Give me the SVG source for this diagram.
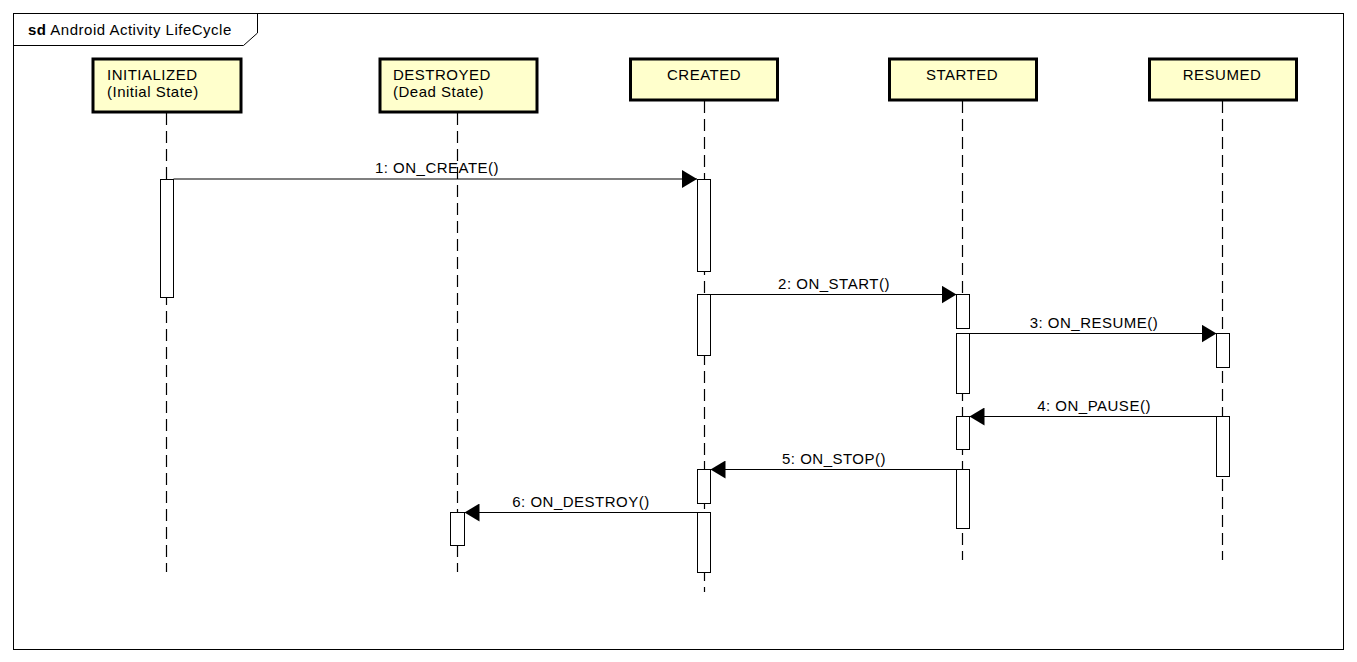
<svg xmlns="http://www.w3.org/2000/svg" width="1357" height="662" viewBox="0 0 1357 662">
<style>
text{font-family:"Liberation Sans",Arial,sans-serif;font-size:15px;letter-spacing:0.5px;fill:#000}
.box{fill:#FFFFCC;stroke:#000;stroke-width:3}
.life{stroke:#000;stroke-width:1.2;stroke-dasharray:12 6;fill:none}
.act{fill:#fff;stroke:#000;stroke-width:1}
.msg{stroke:#000;stroke-width:1.2;fill:none;marker-end:url(#ah)}
.lbl{text-anchor:middle}
</style>
<defs>
<marker id="ah" markerUnits="userSpaceOnUse" markerWidth="16" markerHeight="18" refX="15" refY="9" orient="auto">
<path d="M0,0 L15,9 L0,18 Z" fill="#000"/>
</marker>
</defs>
<rect width="1357" height="662" fill="#fff"/>
<g id="frame">
<rect x="13.5" y="13.5" width="1330" height="636" fill="none" stroke="#000" stroke-width="1"/>
<path d="M13.5,45.5 L243.5,45.5 L257.5,33 L257.5,13.5" fill="none" stroke="#000" stroke-width="1"/>
<text x="28" y="35"><tspan font-weight="bold">sd</tspan> Android  Activity LifeCycle</text>
</g>
<g id="initialized">
<rect class="box" x="93" y="59" width="148" height="53"/>
<text x="107" y="80">INITIALIZED</text>
<text x="107" y="97">(Initial State)</text>
<line class="life" x1="166.5" y1="113" x2="166.5" y2="572"/>
<rect class="act" x="160.5" y="179.5" width="13" height="118"/>
</g>
<g id="destroyed">
<rect class="box" x="380" y="59" width="157" height="53"/>
<text x="393" y="80">DESTROYED</text>
<text x="393" y="97">(Dead State)</text>
<line class="life" x1="457.5" y1="113" x2="457.5" y2="572"/>
<rect class="act" x="450.5" y="512.5" width="14" height="33"/>
</g>
<g id="created">
<rect class="box" x="630.5" y="59" width="147" height="41"/>
<text class="lbl" x="704" y="80">CREATED</text>
<line class="life" x1="704.5" y1="101" x2="704.5" y2="592"/>
<rect class="act" x="697.5" y="179.5" width="13" height="92"/>
<rect class="act" x="697.5" y="294.5" width="13" height="61"/>
<rect class="act" x="697.5" y="469.5" width="13" height="34"/>
<rect class="act" x="697.5" y="512.5" width="13" height="60"/>
</g>
<g id="started">
<rect class="box" x="889.5" y="59" width="147" height="41"/>
<text class="lbl" x="962" y="80">STARTED</text>
<line class="life" x1="962.5" y1="101" x2="962.5" y2="560"/>
<rect class="act" x="956.5" y="294.5" width="13" height="34"/>
<rect class="act" x="956.5" y="333.5" width="13" height="60"/>
<rect class="act" x="956.5" y="416.5" width="13" height="33"/>
<rect class="act" x="956.5" y="469.5" width="13" height="59"/>
</g>
<g id="resumed">
<rect class="box" x="1149.5" y="59" width="147" height="41"/>
<text class="lbl" x="1222" y="80">RESUMED</text>
<line class="life" x1="1222.5" y1="101" x2="1222.5" y2="560"/>
<rect class="act" x="1216.5" y="333.5" width="13" height="34"/>
<rect class="act" x="1216.5" y="416.5" width="13" height="60"/>
</g>
<g id="connectors">
<line class="msg" x1="173.5" y1="179" x2="697" y2="179"/>
<text class="lbl" x="437" y="173">1: ON_CREATE()</text>
<line class="msg" x1="710.5" y1="294.5" x2="956.5" y2="294.5"/>
<text class="lbl" x="834" y="289">2: ON_START()</text>
<line class="msg" x1="969.5" y1="333.5" x2="1216.5" y2="333.5"/>
<text class="lbl" x="1094" y="328">3: ON_RESUME()</text>
<line class="msg" x1="1216.5" y1="416.5" x2="969.5" y2="416.5"/>
<text class="lbl" x="1094" y="411">4: ON_PAUSE()</text>
<line class="msg" x1="956.5" y1="469.5" x2="710.5" y2="469.5"/>
<text class="lbl" x="834" y="464">5: ON_STOP()</text>
<line class="msg" x1="697.5" y1="512.5" x2="464.5" y2="512.5"/>
<text class="lbl" x="581" y="507">6: ON_DESTROY()</text>
</g>
</svg>
